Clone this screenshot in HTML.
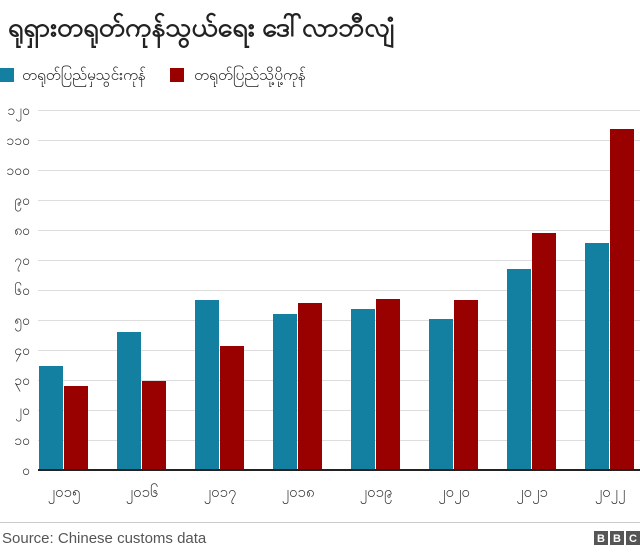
<!DOCTYPE html>
<html><head><meta charset="utf-8"><style>
body{margin:0;width:640px;height:551px;background:#fff;overflow:hidden;font-family:"Liberation Sans","Noto Sans CJK SC",sans-serif;}
</style></head><body>
<svg width="640" height="551" xmlns="http://www.w3.org/2000/svg" font-family="Liberation Sans, DejaVu Sans, sans-serif">
<text x="8" y="36" font-size="26" font-weight="bold" fill="#222" textLength="386" lengthAdjust="spacingAndGlyphs">ရုရှားတရုတ်ကုန်သွယ်ရေး ဒေါ်လာဘီလျံ</text>
<rect x="0" y="68" width="14" height="14" fill="#1380A1"/>
<text x="22" y="80" font-size="15" fill="#222" textLength="124" lengthAdjust="spacingAndGlyphs">တရုတ်ပြည်မှသွင်းကုန်</text>
<rect x="170" y="68" width="14" height="14" fill="#990000"/>
<text x="194" y="80" font-size="15" fill="#222" textLength="112" lengthAdjust="spacingAndGlyphs">တရုတ်ပြည်သို့ပို့ကုန်</text>
<g stroke="#ddd" stroke-width="1">
<line x1="38" x2="640" y1="110.5" y2="110.5"/><line x1="38" x2="640" y1="140.5" y2="140.5"/>
<line x1="38" x2="640" y1="170.5" y2="170.5"/><line x1="38" x2="640" y1="200.5" y2="200.5"/>
<line x1="38" x2="640" y1="230.5" y2="230.5"/><line x1="38" x2="640" y1="260.5" y2="260.5"/>
<line x1="38" x2="640" y1="290.5" y2="290.5"/><line x1="38" x2="640" y1="320.5" y2="320.5"/>
<line x1="38" x2="640" y1="350.5" y2="350.5"/><line x1="38" x2="640" y1="380.5" y2="380.5"/>
<line x1="38" x2="640" y1="410.5" y2="410.5"/><line x1="38" x2="640" y1="440.5" y2="440.5"/>
</g>
<g font-size="14" fill="#333" text-anchor="end">
<text x="30" y="115">၁၂၀</text><text x="30" y="145">၁၁၀</text><text x="30" y="175">၁၀၀</text>
<text x="30" y="205">၉၀</text><text x="30" y="235">၈၀</text><text x="30" y="265">၇၀</text>
<text x="30" y="295">၆၀</text><text x="30" y="325">၅၀</text><text x="30" y="355">၄၀</text>
<text x="30" y="385">၃၀</text><text x="30" y="415">၂၀</text><text x="30" y="445">၁၀</text>
<text x="30" y="475">၀</text>
</g>
<g fill="#1380A1">
<rect x="39" y="366" width="24" height="104"/><rect x="117" y="332" width="24" height="138"/>
<rect x="195" y="300" width="24" height="170"/><rect x="273" y="314" width="24" height="156"/>
<rect x="351" y="309" width="24" height="161"/><rect x="429" y="319" width="24" height="151"/>
<rect x="507" y="269" width="24" height="201"/><rect x="585" y="243" width="24" height="227"/>
</g>
<g fill="#990000">
<rect x="64" y="386" width="24" height="84"/><rect x="142" y="381" width="24" height="89"/>
<rect x="220" y="346" width="24" height="124"/><rect x="298" y="303" width="24" height="167"/>
<rect x="376" y="299" width="24" height="171"/><rect x="454" y="300" width="24" height="170"/>
<rect x="532" y="233" width="24" height="237"/><rect x="610" y="129" width="24" height="341"/>
</g>
<line x1="38" x2="640" y1="470" y2="470" stroke="#222" stroke-width="2"/>
<g font-size="15" fill="#333" text-anchor="middle">
<text x="64" y="497">၂၀၁၅</text><text x="142" y="497">၂၀၁၆</text><text x="220" y="497">၂၀၁၇</text>
<text x="298" y="497">၂၀၁၈</text><text x="376" y="497">၂၀၁၉</text><text x="454" y="497">၂၀၂၀</text>
<text x="532" y="497">၂၀၂၁</text><text x="610" y="497">၂၀၂၂</text>
</g>
<line x1="0" x2="640" y1="522.5" y2="522.5" stroke="#ccc"/>
<text x="2" y="543" font-size="15" fill="#555">Source: Chinese customs data</text>
<g font-size="11" font-weight="bold" fill="#fff" text-anchor="middle">
<rect x="594" y="531" width="14" height="14" fill="#555"/><text x="601" y="542">B</text>
<rect x="610" y="531" width="14" height="14" fill="#555"/><text x="617" y="542">B</text>
<rect x="626" y="531" width="14" height="14" fill="#555"/><text x="633" y="542">C</text>
</g>
</svg>
</body></html>
